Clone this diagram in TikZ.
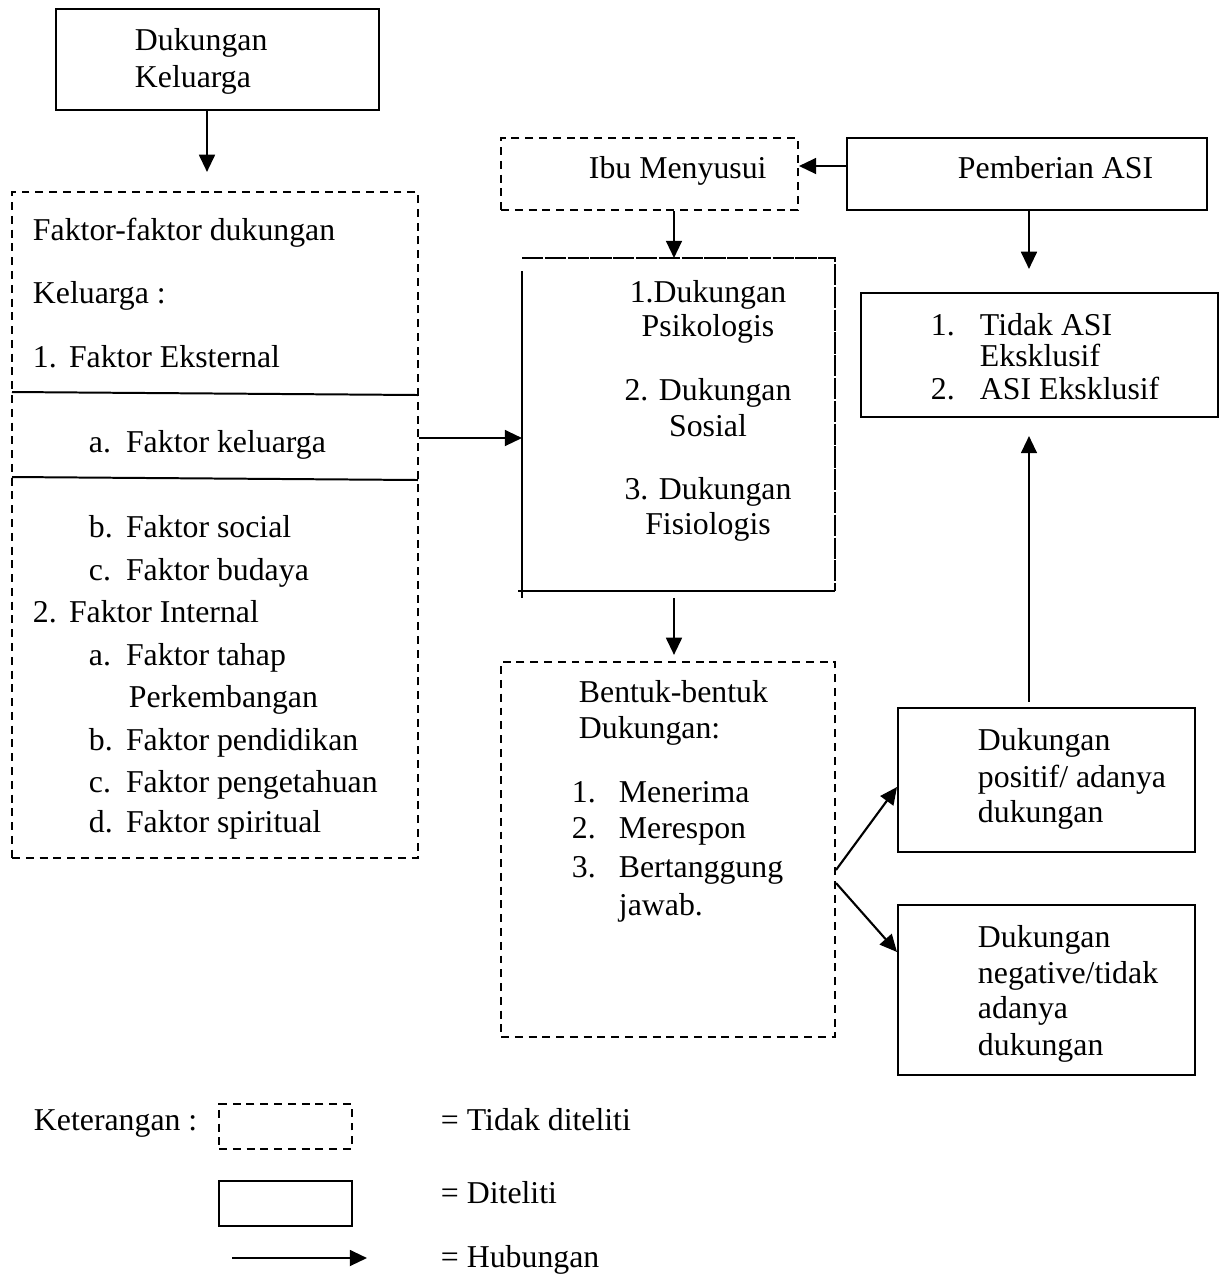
\documentclass[tikz,border=0pt]{standalone}
\usepackage{fontspec}
\setmainfont{Liberation Serif}
\usetikzlibrary{arrows.meta,fit}
\begin{document}
\begin{tikzpicture}[x=0.3774pt,y=-0.3774pt, line width=0.75pt,
  box/.style={draw, rectangle, inner sep=0pt},
  dbox/.style={box, dash pattern=on 3pt off 2.2pt},
  arr/.style={-{Triangle[length=6.5pt,width=6pt]}, line width=0.8pt},
  txt/.style={inner sep=0pt, anchor=base west, font=\fontsize{12}{14}\selectfont},
  ctxt/.style={txt, anchor=base}]
\useasboundingbox (0,0) rectangle (1225,1274);

% boxes
\node[box, fit={(56,9) (379,110)}] (dk) {};
\node[dbox, fit={(12,192) (418,858)}] (fk) {};
\node[dbox, fit={(501,138) (798,210)}] (ibu) {};
\node[box, fit={(847,138) (1207,210)}] (pa) {};
\node[inner sep=0pt, fit={(523,259) (834,590)}] (mid) {};
\node[box, fit={(861,293) (1218,417)}] (tidak) {};
\node[dbox, fit={(501,662) (835,1037)}] (bentuk) {};
\node[box, fit={(898,708) (1195,852)}] (pos) {};
\node[box, fit={(898,905) (1195,1075)}] (neg) {};

% central box borders (mixed styles)
\draw[dash pattern=on 8pt off 0.6pt] (mid.north west) -- (mid.north east) -- (mid.south east);
\draw ([yshift=-4.9pt]mid.north west) -- ([yshift=-2.6pt]mid.south west);
\draw ([xshift=-1.5pt]mid.south west) -- (mid.south east);

% dividing lines in left box
\draw (12,392) -- (418,395);
\draw (12,477) -- (418,480);

% texts: Dukungan Keluarga
\node[txt] (t1) at (134,40+10) {Dukungan};
\node[txt] (t2) at (134,77+10) {Keluarga};

% left box
\node[txt] (f1) at (32,230+10) {Faktor-faktor dukungan};
\node[txt] (f2) at (32,293+10) {Keluarga :};
\node[txt] (f3) at (32,357+10) {\makebox[13.6pt][l]{1.}Faktor Eksternal};
\node[txt] (f4) at (88,442+10) {\makebox[14pt][l]{a.}Faktor keluarga};
\node[txt] (f5) at (88,527+10) {\makebox[14pt][l]{b.}Faktor social};
\node[txt] (f6) at (88,570+10) {\makebox[14pt][l]{c.}Faktor budaya};
\node[txt] (f7) at (32,612+10) {\makebox[13.6pt][l]{2.}Faktor Internal};
\node[txt] (f8) at (88,655+10) {\makebox[14pt][l]{a.}Faktor tahap};
\node[txt] (f9) at (128,697+10) {Perkembangan};
\node[txt] (f10) at (88,740+10) {\makebox[14pt][l]{b.}Faktor pendidikan};
\node[txt] (f11) at (88,782+10) {\makebox[14pt][l]{c.}Faktor pengetahuan};
\node[txt] (f12) at (88,822+10) {\makebox[14pt][l]{d.}Faktor spiritual};

% Ibu Menyusui / Pemberian ASI
\node[txt] (ti) at (588,168+10) {Ibu Menyusui};
\node[txt] (tp) at (957,168+10) {Pemberian ASI};

% central
\node[ctxt] (m1) at (708,292+10) {1.Dukungan};
\node[ctxt] (m2) at (708,326+10) {Psikologis};
\node[ctxt] (m3) at (708,390+10) {2. Dukungan};
\node[ctxt] (m4) at (708,426+10) {Sosial};
\node[ctxt] (m5) at (708,489+10) {3. Dukungan};
\node[ctxt] (m6) at (708,524+10) {Fisiologis};

% Tidak ASI box
\node[txt] (a1) at (930,325+10) {\makebox[18.5pt][l]{1.}Tidak ASI};
\node[txt] (a2) at (979,356+10) {Eksklusif};
\node[txt] (a3) at (930,389+10) {\makebox[18.5pt][l]{2.}ASI Eksklusif};

% Bentuk box
\node[txt] (b1) at (578,692+10) {Bentuk-bentuk};
\node[txt] (b2) at (578,728+10) {Dukungan:};
\node[txt] (b3) at (571,792+10) {\makebox[17.7pt][l]{1.}Menerima};
\node[txt] (b4) at (571,828+10) {\makebox[17.7pt][l]{2.}Merespon};
\node[txt] (b5) at (571,867+10) {\makebox[17.7pt][l]{3.}Bertanggung};
\node[txt] (b6) at (618,905+10) {jawab.};

% positive / negative
\node[txt] (p1) at (977,740+10) {Dukungan};
\node[txt] (p2) at (977,777+10) {positif/ adanya};
\node[txt] (p3) at (977,812+10) {dukungan};
\node[txt] (n1) at (977,937+10) {Dukungan};
\node[txt] (n2) at (977,973+10) {negative/tidak};
\node[txt] (n3) at (977,1008+10) {adanya};
\node[txt] (n4) at (977,1045+10) {dukungan};

% arrows
\draw[arr, shorten >=7.2pt] (dk.south -| 207,0) -- (fk.north -| 207,0);
\draw[arr] (fk.east |- 0,438) -- (mid.west |- 0,438);
\draw[arr] (pa.west |- 0,166) -- (ibu.east |- 0,166);
\draw[arr] (ibu.south -| 674,0) -- (mid.north -| 674,0);
\draw[arr, shorten <=2.6pt, shorten >=2.3pt] (mid.south -| 674,0) -- (bentuk.north -| 674,0);
\draw[arr, shorten >=8.7pt] (pa.south -| 1029,0) -- (tidak.north -| 1029,0);
\draw[arr, shorten <=1.9pt, shorten >=6.8pt] (pos.north -| 1029,0) -- (tidak.south -| 1029,0);
\draw[arr] (bentuk.east |- 0,870) -- (pos.west |- 0,787);
\draw[arr] (bentuk.east |- 0,883) -- (neg.west |- 0,952);

% legend
\node[txt] (k0) at (33,1120+10) {Keterangan :};
\node[dbox, fit={(219,1104) (352,1149)}] (lg1) {};
\node[box, fit={(219,1181) (352,1226)}] (lg2) {};
\coordinate (lg3a) at (232,1258);
\coordinate (lg3b) at (367,1258);
\draw[arr] (lg3a) -- (lg3b);
\node[txt] (k1) at (440,1120+10) {= Tidak diteliti};
\node[txt] (k2) at (440,1193+10) {= Diteliti};
\node[txt] (k3) at (440,1257+10) {= Hubungan};
\end{tikzpicture}
\end{document}
